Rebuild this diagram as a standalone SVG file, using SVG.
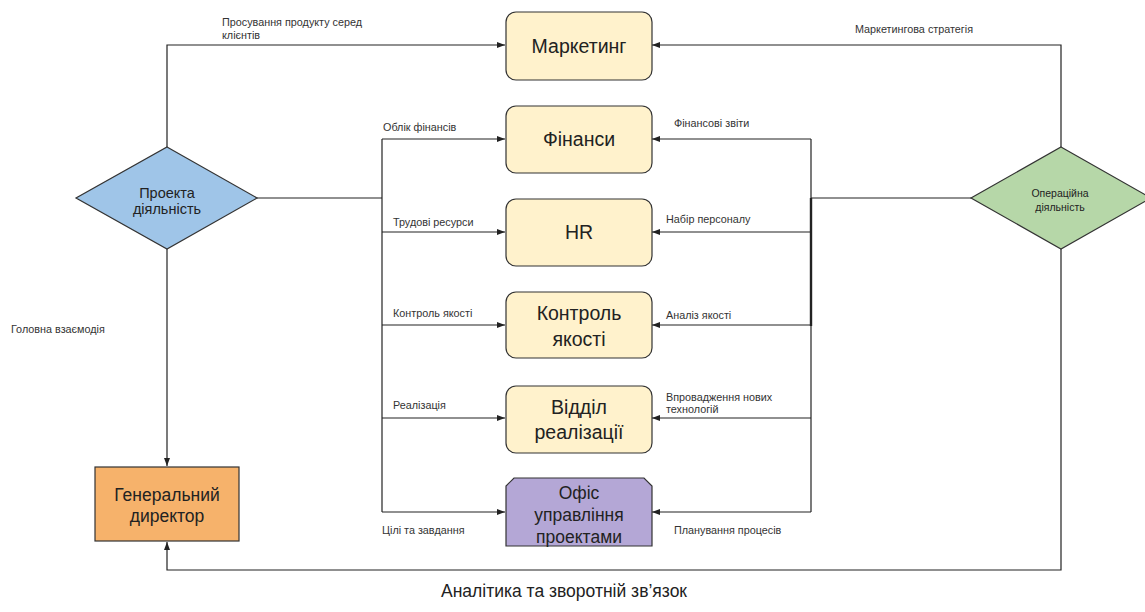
<svg xmlns="http://www.w3.org/2000/svg" width="1145" height="612" viewBox="0 0 1145 612">
<style>
.ln{fill:none;stroke:#222;stroke-width:1.2}
.box{fill:#FFF2CC;stroke:#333;stroke-width:1.2}
.t{font-family:"Liberation Sans",Arial,sans-serif;fill:#222;text-anchor:middle}
.lb{font-family:"Liberation Sans",Arial,sans-serif;fill:#333;font-size:10.8px}
.big{font-size:19.5px}
</style>
<defs>
<marker id="ah" viewBox="0 0 8 6" refX="8" refY="3" markerWidth="8" markerHeight="6" markerUnits="userSpaceOnUse" orient="auto">
<path d="M0,0 L8,3 L0,6 Z" fill="#222"/>
</marker>
</defs>
<rect width="1145" height="612" fill="#fff"/>
<g id="connectors">
<path class="ln" d="M167,147 V45 H505" marker-end="url(#ah)"/>
<path class="ln" d="M1061,147 V45 H652" marker-end="url(#ah)"/>
<path class="ln" d="M257,198 H382"/>
<path class="ln" d="M382,139 V512"/>
<path class="ln" d="M382,139 H505" marker-end="url(#ah)"/>
<path class="ln" d="M382,232 H505" marker-end="url(#ah)"/>
<path class="ln" d="M382,325 H505" marker-end="url(#ah)"/>
<path class="ln" d="M382,418 H505" marker-end="url(#ah)"/>
<path class="ln" d="M382,512 H505" marker-end="url(#ah)"/>
<path class="ln" d="M971,198 H811"/>
<path class="ln" d="M811,139 V512"/>
<path class="ln" d="M811,198 V326" style="stroke-width:2.4"/>
<path class="ln" d="M811,139 H652" marker-end="url(#ah)"/>
<path class="ln" d="M811,232 H652" marker-end="url(#ah)"/>
<path class="ln" d="M811,325 H652" marker-end="url(#ah)"/>
<path class="ln" d="M811,418 H652" marker-end="url(#ah)"/>
<path class="ln" d="M811,512 H652" marker-end="url(#ah)"/>
<path class="ln" d="M167,249 V466" marker-end="url(#ah)"/>
<path class="ln" d="M1061,249 V570 H167 V542" marker-end="url(#ah)"/>
<text class="lb" x="222" y="26">Просування продукту серед</text>
<text class="lb" x="222" y="39">клієнтів</text>
<text class="lb" x="855" y="33">Маркетингова стратегія</text>
<text class="lb" x="11" y="333">Головна взаємодія</text>
<text class="lb" x="383" y="131">Облік фінансів</text>
<text class="lb" x="393" y="226">Трудові ресурси</text>
<text class="lb" x="393" y="317">Контроль якості</text>
<text class="lb" x="393" y="409">Реалізація</text>
<text class="lb" x="382" y="534">Цілі та завдання</text>
<text class="lb" x="674" y="127">Фінансові звіти</text>
<text class="lb" x="666" y="223">Набір персоналу</text>
<text class="lb" x="666" y="319">Аналіз якості</text>
<text class="lb" x="666" y="401">Впровадження нових</text>
<text class="lb" x="666" y="413">технологій</text>
<text class="lb" x="674" y="534">Планування процесів</text>
</g>
<g id="project">
<polygon points="167,147 257,198 167,249 76,198" fill="#9FC5E8" stroke="#333" stroke-width="1.2"/>
<text class="t" x="167" y="198" font-size="14.5">Проекта</text>
<text class="t" x="167" y="214" font-size="14.5">діяльність</text>
</g>
<g id="operational">
<polygon points="1061,147 1151,198 1061,249 971,198" fill="#B6D7A8" stroke="#333" stroke-width="1.2"/>
<text class="t" x="1060" y="197" font-size="10.5">Операційна</text>
<text class="t" x="1060" y="211" font-size="10.5">діяльність</text>
</g>
<g id="marketing">
<rect class="box" x="506" y="12" width="146" height="68" rx="10"/>
<text class="t big" x="579" y="53">Маркетинг</text>
</g>
<g id="finance">
<rect class="box" x="506" y="106" width="146" height="67" rx="10"/>
<text class="t big" x="579" y="146">Фінанси</text>
</g>
<g id="hr">
<rect class="box" x="506" y="199" width="146" height="67" rx="10"/>
<text class="t big" x="579" y="239">HR</text>
</g>
<g id="quality">
<rect class="box" x="506" y="292" width="146" height="66" rx="10"/>
<text class="t big" x="579" y="320">Контроль</text>
<text class="t big" x="579" y="346">якості</text>
</g>
<g id="realization">
<rect class="box" x="506" y="386" width="146" height="67" rx="10"/>
<text class="t big" x="579" y="414">Відділ</text>
<text class="t big" x="579" y="439">реалізації</text>
</g>
<g id="pmo">
<polygon points="514,478 644,478 652,486 652,546 506,546 506,486" fill="#B4A7D6" stroke="#333" stroke-width="1.2"/>
<text class="t" x="579" y="499" font-size="17.5">Офіс</text>
<text class="t" x="579" y="521" font-size="17.5">управління</text>
<text class="t" x="579" y="543" font-size="17.5">проектами</text>
</g>
<g id="ceo">
<rect x="95" y="467" width="144" height="74" fill="#F6B26B" stroke="#333" stroke-width="1.2"/>
<text class="t" x="167" y="501" font-size="17.5">Генеральний</text>
<text class="t" x="167" y="522" font-size="17.5">директор</text>
</g>
<text class="t" x="564" y="597" font-size="17.5">Аналітика та зворотній зв’язок</text>
</svg>
